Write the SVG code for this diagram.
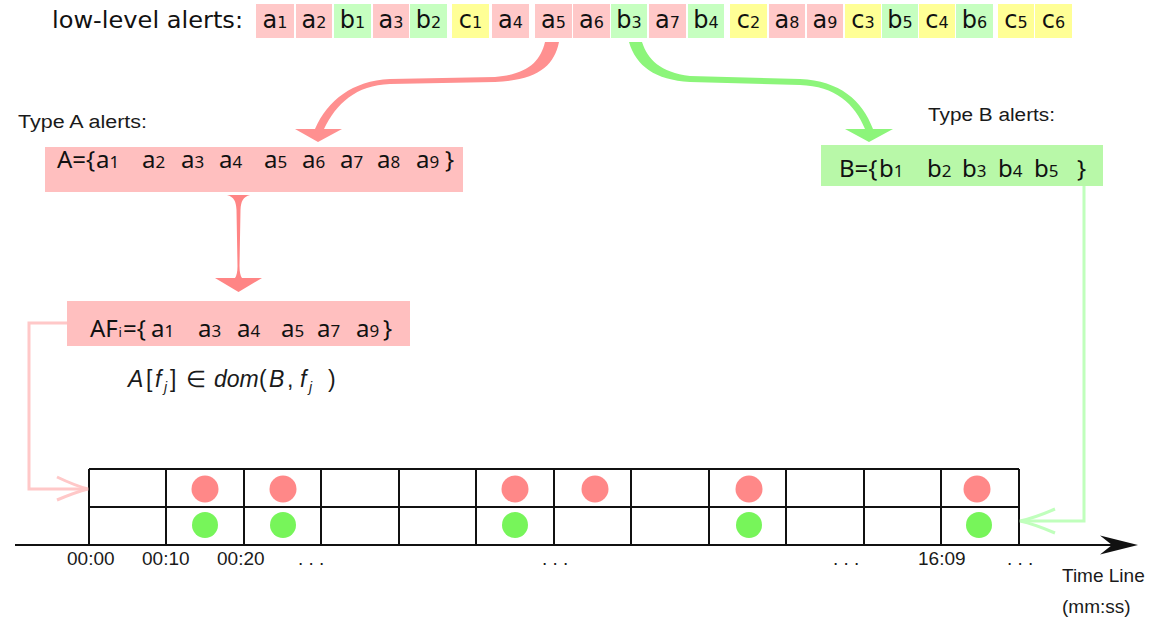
<svg xmlns="http://www.w3.org/2000/svg" width="1151" height="621" viewBox="0 0 1151 621">
  <defs>
    <style>
      .lbl{font-family:"Liberation Sans",Arial,sans-serif;fill:#1a1a1a}
      .tah{font-family:"DejaVu Sans",Verdana,sans-serif;fill:#111}
      .set{font-family:"Noto Sans","DejaVu Sans",sans-serif;fill:#111}
      .ca{fill:#ffc8c8}
      .cb{fill:#c6ffc0}
      .cc{fill:#ffff96}
      .grid{stroke:#111;stroke-width:2;fill:none}
      .dr{fill:#ff8888}
      .dg{fill:#77f55a}
      .sub{font-size:16px}
      .sub2{font-size:17px}
    </style>
  </defs>
  <rect width="1151" height="621" fill="#fff"/>

  <!-- stream of low-level alerts -->
  <g id="alerts">
    <text class="tah" x="52" y="28" font-size="23" textLength="191" lengthAdjust="spacingAndGlyphs">low-level alerts:</text>
    <g font-size="24" text-anchor="middle">
      <rect class="ca" x="256" y="4" width="38" height="34"/><text class="tah" x="275" y="28">a<tspan class="sub">1</tspan></text>
      <rect class="ca" x="296" y="4" width="36" height="34"/><text class="tah" x="314" y="28">a<tspan class="sub">2</tspan></text>
      <rect class="cb" x="334" y="4" width="37" height="34"/><text class="tah" x="352.5" y="28">b<tspan class="sub">1</tspan></text>
      <rect class="ca" x="373" y="4" width="36" height="34"/><text class="tah" x="391" y="28">a<tspan class="sub">3</tspan></text>
      <rect class="cb" x="410" y="4" width="37" height="34"/><text class="tah" x="428.5" y="28">b<tspan class="sub">2</tspan></text>
      <rect class="cc" x="452" y="4" width="37" height="34"/><text class="tah" x="470.5" y="28">c<tspan class="sub">1</tspan></text>
      <rect class="ca" x="492" y="4" width="37" height="34"/><text class="tah" x="510.5" y="28">a<tspan class="sub">4</tspan></text>
      <rect class="ca" x="535" y="4" width="37" height="34"/><text class="tah" x="553.5" y="28">a<tspan class="sub">5</tspan></text>
      <rect class="ca" x="573" y="4" width="37" height="34"/><text class="tah" x="591.5" y="28">a<tspan class="sub">6</tspan></text>
      <rect class="cb" x="611" y="4" width="36" height="34"/><text class="tah" x="629" y="28">b<tspan class="sub">3</tspan></text>
      <rect class="ca" x="649" y="4" width="37" height="34"/><text class="tah" x="667.5" y="28">a<tspan class="sub">7</tspan></text>
      <rect class="cb" x="688" y="4" width="36" height="34"/><text class="tah" x="706" y="28">b<tspan class="sub">4</tspan></text>
      <rect class="cc" x="730" y="4" width="37" height="34"/><text class="tah" x="748.5" y="28">c<tspan class="sub">2</tspan></text>
      <rect class="ca" x="769" y="4" width="36" height="34"/><text class="tah" x="787" y="28">a<tspan class="sub">8</tspan></text>
      <rect class="ca" x="807" y="4" width="36" height="34"/><text class="tah" x="825" y="28">a<tspan class="sub">9</tspan></text>
      <rect class="cc" x="845" y="4" width="36" height="34"/><text class="tah" x="863" y="28">c<tspan class="sub">3</tspan></text>
      <rect class="cb" x="882" y="4" width="36" height="34"/><text class="tah" x="900" y="28">b<tspan class="sub">5</tspan></text>
      <rect class="cc" x="919" y="4" width="36" height="34"/><text class="tah" x="937" y="28">c<tspan class="sub">4</tspan></text>
      <rect class="cb" x="956" y="4" width="37" height="34"/><text class="tah" x="974.5" y="28">b<tspan class="sub">6</tspan></text>
      <rect class="cc" x="998" y="4" width="36" height="34"/><text class="tah" x="1016" y="28">c<tspan class="sub">5</tspan></text>
      <rect class="cc" x="1035" y="4" width="37" height="34"/><text class="tah" x="1053.5" y="28">c<tspan class="sub">6</tspan></text>
    </g>
  </g>

  <!-- set of type A alerts -->
  <g id="setA">
    <text class="lbl" x="18" y="128" font-size="18" textLength="129" lengthAdjust="spacingAndGlyphs">Type A alerts:</text>
    <rect x="45" y="147" width="418" height="45" fill="#ffbfbf"/>
    <g class="set" font-size="24">
      <text x="57" y="168">A={</text>
      <text x="96" y="168">a<tspan class="sub2">1</tspan></text>
      <text x="142" y="168">a<tspan class="sub2">2</tspan></text>
      <text x="181" y="168">a<tspan class="sub2">3</tspan></text>
      <text x="219" y="168">a<tspan class="sub2">4</tspan></text>
      <text x="264" y="168">a<tspan class="sub2">5</tspan></text>
      <text x="302" y="168">a<tspan class="sub2">6</tspan></text>
      <text x="340" y="168">a<tspan class="sub2">7</tspan></text>
      <text x="377" y="168">a<tspan class="sub2">8</tspan></text>
      <text x="416" y="168">a<tspan class="sub2">9</tspan></text>
      <text x="445" y="168">}</text>
    </g>
  </g>

  <!-- set of type B alerts -->
  <g id="setB">
    <text class="lbl" x="928" y="121" font-size="18" textLength="127" lengthAdjust="spacingAndGlyphs">Type B alerts:</text>
    <rect x="821" y="145" width="282" height="41" fill="#b8f8a8"/>
    <g class="set" font-size="24">
      <text x="839" y="177">B={</text>
      <text x="879" y="177">b<tspan class="sub2">1</tspan></text>
      <text x="927" y="177">b<tspan class="sub2">2</tspan></text>
      <text x="962" y="177">b<tspan class="sub2">3</tspan></text>
      <text x="998" y="177">b<tspan class="sub2">4</tspan></text>
      <text x="1034" y="177">b<tspan class="sub2">5</tspan></text>
      <text x="1077" y="177">}</text>
    </g>
  </g>

  <!-- filtered subset AF_i -->
  <g id="setAF">
    <rect x="67" y="301" width="343" height="45" fill="#ffbfbf"/>
    <g class="set" font-size="24">
      <text x="90" y="337">AF</text><text x="118.5" y="337" font-size="13">i</text>
      <text x="123" y="337">={</text>
      <text x="151" y="337">a<tspan class="sub2">1</tspan></text>
      <text x="198" y="337">a<tspan class="sub2">3</tspan></text>
      <text x="237" y="337">a<tspan class="sub2">4</tspan></text>
      <text x="281" y="337">a<tspan class="sub2">5</tspan></text>
      <text x="317" y="337">a<tspan class="sub2">7</tspan></text>
      <text x="356" y="337">a<tspan class="sub2">9</tspan></text>
      <text x="383" y="337">}</text>
    </g>
    <text class="lbl" y="387" font-size="23">
      <tspan x="128" font-style="italic">A</tspan><tspan x="146">[</tspan><tspan x="155" font-style="italic">f</tspan><tspan x="164" dy="5" font-size="14" font-style="italic">j</tspan><tspan x="170" dy="-5">]</tspan><tspan x="186">∈</tspan><tspan x="214" font-style="italic">dom</tspan><tspan x="259">(</tspan><tspan x="269" font-style="italic">B</tspan><tspan x="287">,</tspan><tspan x="300" font-style="italic">f</tspan><tspan x="309" dy="5" font-size="14" font-style="italic">j</tspan><tspan x="328" dy="-5">)</tspan>
    </text>
  </g>

  <!-- time line grid -->
  <g id="timeline">
    <path class="grid" d="M89,469H1019M89,507H1019M89,469V545M166,469V545M244,469V545M321,469V545M399,469V545M476,469V545M554,469V545M631,469V545M709,469V545M786,469V545M864,469V545M941,469V545M1019,469V545"/>
    <path d="M15,545H1112" stroke="#111" stroke-width="2"/>
    <path d="M1138,545L1100,535.5L1112,545L1100,554.5Z" fill="#111"/>
    <circle class="dr" cx="205" cy="489" r="13.5"/>
    <circle class="dr" cx="283" cy="489" r="13.5"/>
    <circle class="dr" cx="515" cy="489" r="13.5"/>
    <circle class="dr" cx="595" cy="489" r="13.5"/>
    <circle class="dr" cx="749" cy="489" r="13.5"/>
    <circle class="dr" cx="977" cy="489" r="13.5"/>
    <circle class="dg" cx="205" cy="525" r="13"/>
    <circle class="dg" cx="283" cy="525" r="13"/>
    <circle class="dg" cx="515" cy="525" r="13"/>
    <circle class="dg" cx="749" cy="525" r="13"/>
    <circle class="dg" cx="979" cy="525" r="13"/>
    <g class="lbl" font-size="19">
      <text x="67" y="565">00:00</text>
      <text x="142" y="565">00:10</text>
      <text x="217" y="565">00:20</text>
      <text x="298" y="565">. . .</text>
      <text x="542" y="565">. . .</text>
      <text x="833" y="565">. . .</text>
      <text x="918" y="565">16:09</text>
      <text x="1007" y="565">. . .</text>
      <text x="1062" y="582">Time Line</text>
      <text x="1062" y="613">(mm:ss)</text>
    </g>
  </g>

  <!-- connectors -->
  <g id="connectors">
    <!-- A alerts picked out of the stream -->
    <path d="M545,42C540,62 528,74 495,77L390,79C352,81 328,100 315,129L295,129L318,142L342,129L324,129C336,104 356,85 390,84L495,82C538,80 554,66 559,42Z" fill="#ff9090"/>
    <!-- B alerts picked out of the stream -->
    <path d="M642,42C648,60 660,72 690,76L800,79C840,81 862,100 873,129L893,129L869,142L845,129L865,129C855,104 835,86 800,85L690,82C655,80 636,66 629,42Z" fill="#8cf57a"/>
    <!-- A to AF_i -->
    <path d="M227,195L250,195C243,197 241,201 240.5,210L239.5,266C239.5,272 240.5,276 242,278L262,278L238.5,292L215,278L235,278C236.5,276 237.5,272 237.5,266L236.5,210C236,201 234,197 227,195Z" fill="#ff8585"/>
    <!-- AF_i to first row of the grid -->
    <path d="M67,323H29V489H87" fill="none" stroke="#ffc8c8" stroke-width="3"/>
    <path d="M57,477Q76,486 88,489Q76,492 57,500" fill="none" stroke="#ffc8c8" stroke-width="3"/>
    <!-- B to second row of the grid -->
    <path d="M1084,186V521H1021" fill="none" stroke="#c0ffbc" stroke-width="3"/>
    <path d="M1055,509Q1034,518 1020,521Q1034,524 1055,533" fill="none" stroke="#c0ffbc" stroke-width="3"/>
  </g>
</svg>
